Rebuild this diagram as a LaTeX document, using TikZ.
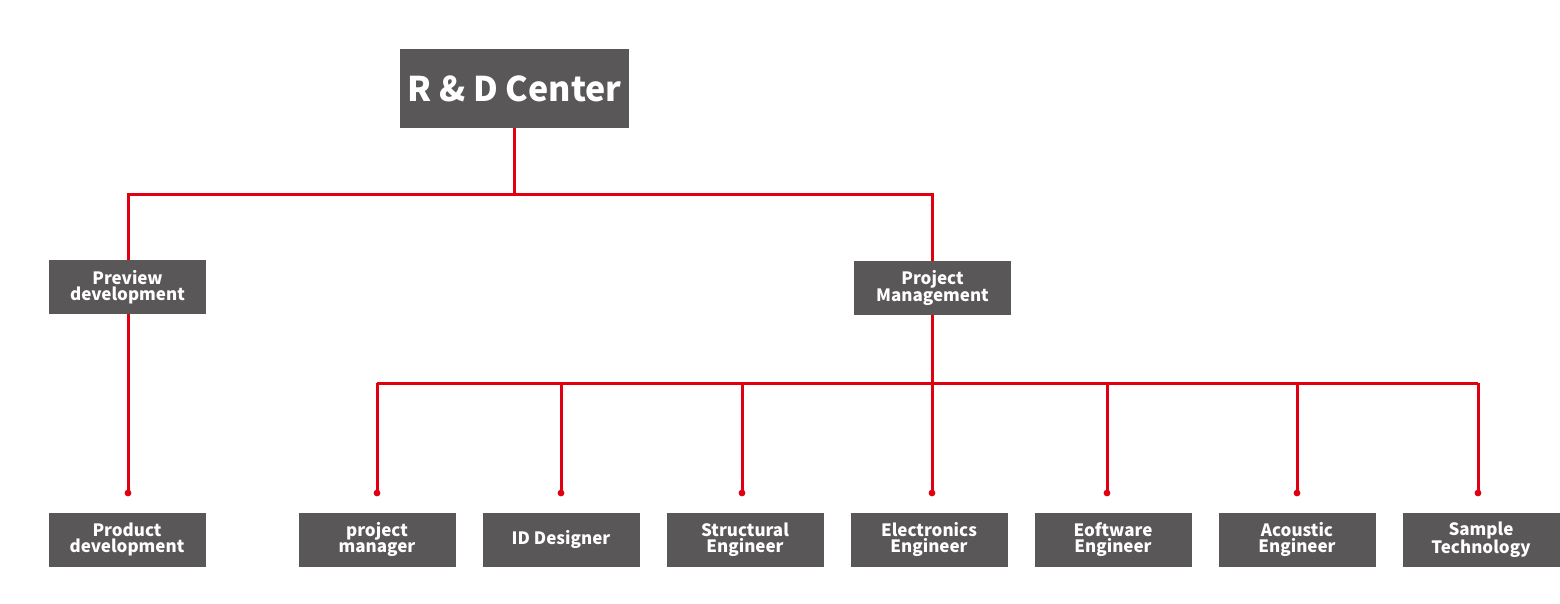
\documentclass[tikz,border=0pt]{standalone}
\usepackage{fontspec}
\setmainfont{Noto Sans CJK SC}
\definecolor{boxgray}{RGB}{89,87,87}
\definecolor{linered}{RGB}{225,0,18}
\tikzset{
  box/.style={fill=boxgray, text=white, inner sep=0pt, align=center, font=\bfseries\fontsize{17}{16}\selectfont},
  smallbox/.style={box, minimum width=157pt, minimum height=54pt},
  conn/.style={draw=linered, line width=3pt},
  dotend/.style={fill=linered},
}
\begin{document}
\begin{tikzpicture}[x=1pt,y=-1pt]
\useasboundingbox (0,0) rectangle (1560,603);
% nodes
\node[box, minimum width=229pt, minimum height=79pt, font=\bfseries\fontsize{34}{40}\selectfont] (top) at (514.5,88.5) {R \& D Center};
\node[smallbox] (prev) at (127.5,287) {Preview\\development};
\node[smallbox] (pm) at (932.5,288) {Project\\Management};
\node[smallbox] (prod) at (127,539.5) {Product\\development};
\node[smallbox] (b1) at (377,539.5) {project\\manager};
\node[smallbox] (b2) at (561,539.5) {ID Designer};
\node[smallbox] (b3) at (745,539.5) {Structural\\Engineer};
\node[smallbox] (b4) at (929,539.5) {Electronics\\Engineer};
\node[smallbox] (b5) at (1113,539.5) {Eoftware\\Engineer};
\node[smallbox] (b6) at (1297,539.5) {Acoustic\\Engineer};
\node[smallbox] (b7) at (1481,539.5) {Sample\\Technology};
% junctions
\coordinate (j1) at (514.5,194);
\coordinate (bus) at (932,383);
\coordinate (busL) at (377,383);
\coordinate (busR) at (1478,383);
\coordinate (d0) at (128,493);
\coordinate (d1) at (377,493);
\coordinate (d2) at (561,493);
\coordinate (d3) at (742,493);
\coordinate (d4) at (932,493);
\coordinate (d5) at (1107,493);
\coordinate (d6) at (1297,493);
\coordinate (d7) at (1478,493);
% connectors
\draw[conn] (top.south) -- (j1);
\draw[conn] (prev.north -| 128,0) |- (j1) -| (pm.north -| 932,0);
\draw[conn] (prev.south -| 128,0) -- (d0);
\draw[conn] (pm.south -| 932,0) -- (bus);
\draw[conn] (busL) -- (busR);
\foreach \d in {d1,d2,d3,d4,d5,d6,d7}{
  \draw[conn] (\d |- bus) -- (\d);
}
\foreach \d in {d0,d1,d2,d3,d4,d5,d6,d7}{
  \fill[dotend] (\d) circle (3.4);
}
\end{tikzpicture}
\end{document}
